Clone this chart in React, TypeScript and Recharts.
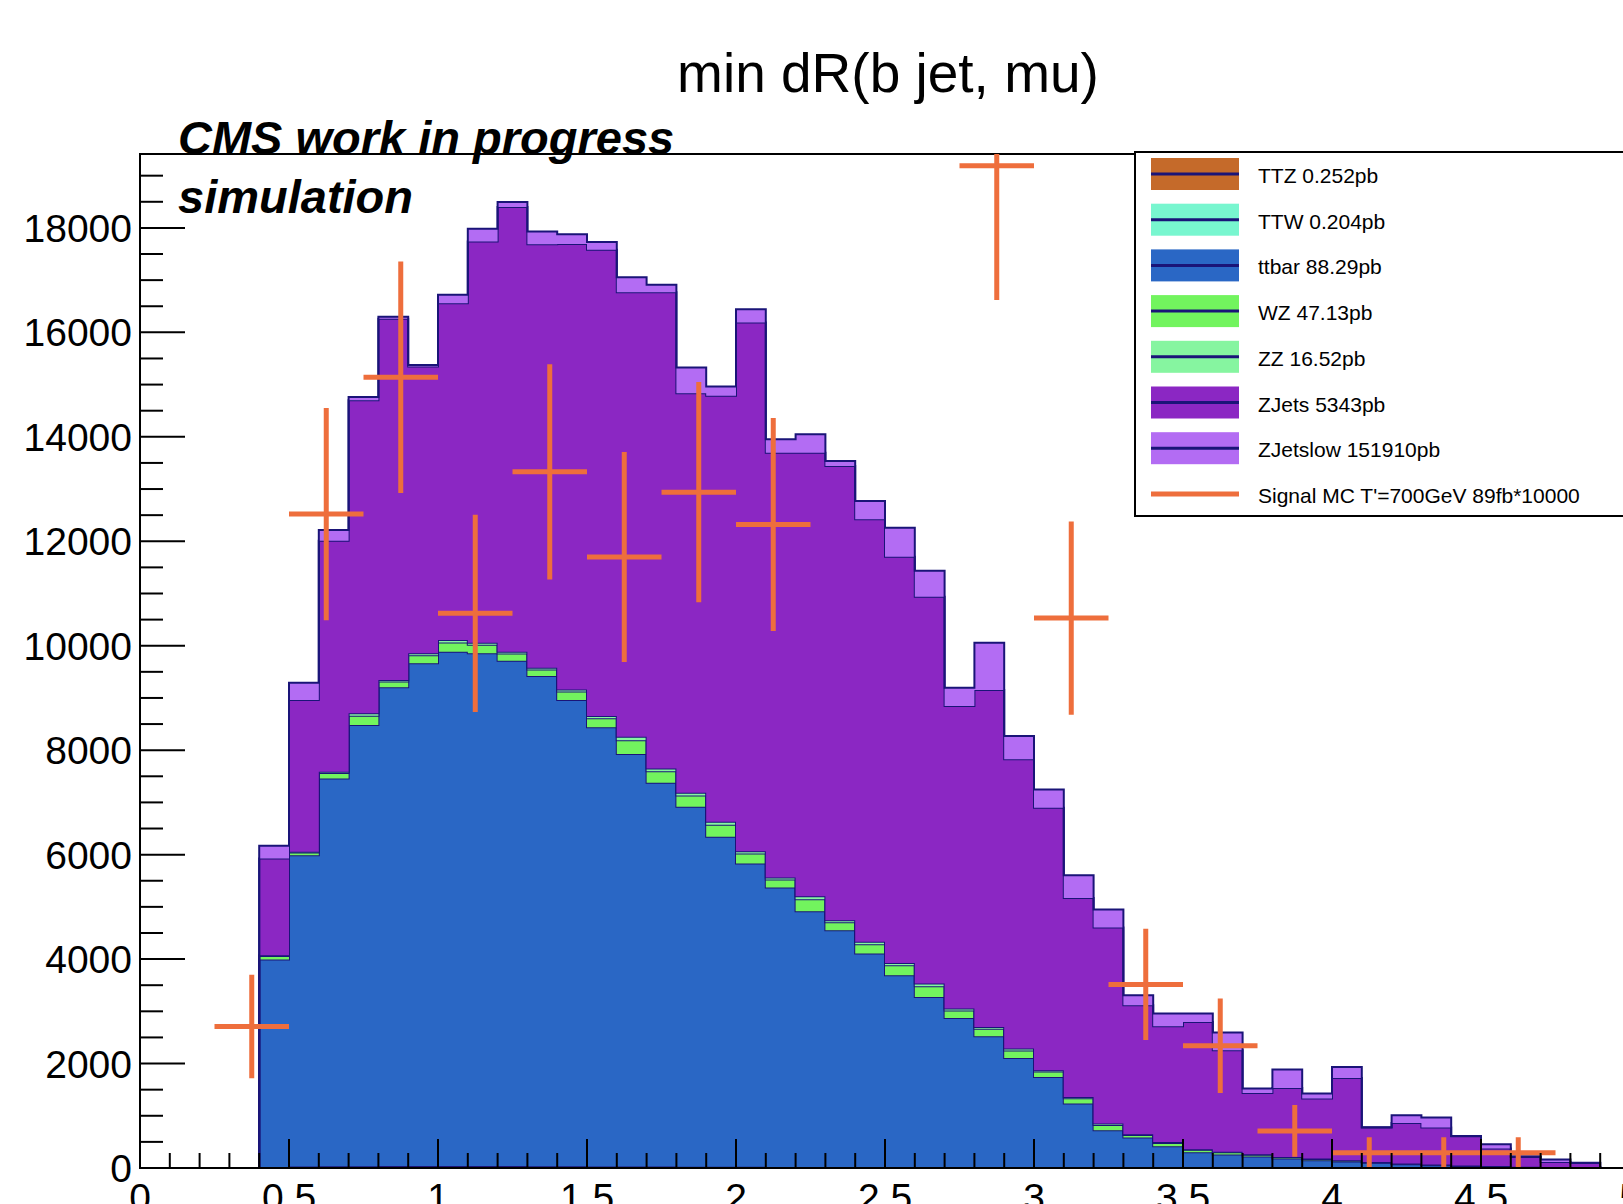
import React from 'react';
import { ComposedChart, Area, Line, ReferenceArea, XAxis, YAxis } from 'recharts';

// Histogram binning: low edge of every filled bin, bins are 0.1 wide
const BIN_LOW = [0.4, 0.5, 0.6, 0.7, 0.8, 0.9, 1.0, 1.1, 1.2, 1.3, 1.4, 1.5, 1.6, 1.7, 1.8, 1.9, 2.0, 2.1, 2.2, 2.3, 2.4, 2.5, 2.6, 2.7, 2.8, 2.9, 3.0, 3.1, 3.2, 3.3, 3.4, 3.5, 3.6, 3.7, 3.8, 3.9, 4.0, 4.1, 4.2, 4.3, 4.4, 4.5, 4.6, 4.7, 4.8];
const HIST_END = 4.9;

// Background contributions per bin (events), bottom of the stack first
const TTZ = [12, 16, 18, 20, 21, 22, 22, 22, 21, 20, 19, 18, 17, 16, 15, 14, 13, 12, 11, 10, 9, 8, 7, 6, 6, 5, 4, 3, 3, 2, 2, 2, 2, 1, 1, 1, 1, 1, 1, 1, 0, 0, 0, 0, 0];
const TTW = [9, 12, 14, 15, 16, 16, 16, 16, 15, 15, 14, 13, 12, 12, 11, 10, 9, 9, 8, 7, 7, 6, 5, 5, 4, 4, 3, 3, 2, 2, 2, 1, 1, 1, 1, 1, 1, 0, 0, 0, 0, 0, 0, 0, 0];
const TTBAR = [3969, 5962, 7428, 8446, 9166, 9625, 9847, 9816, 9677, 9384, 8927, 8406, 7896, 7348, 6890, 6317, 5809, 5351, 4899, 4536, 4091, 3678, 3264, 2863, 2513, 2098, 1736, 1228, 717, 578, 411, 297, 257, 218, 178, 148, 123, 99, 69, 54, 40, 30, 20, 15, 10];
const WZ = [68, 51, 101, 179, 112, 153, 179, 163, 138, 128, 163, 173, 266, 220, 214, 230, 189, 153, 230, 154, 178, 188, 205, 144, 142, 144, 103, 101, 102, 50, 66, 48, 40, 34, 25, 24, 20, 12, 12, 8, 8, 6, 5, 4, 3];
const ZZ = [17, 13, 25, 45, 28, 38, 45, 41, 34, 32, 41, 43, 66, 55, 54, 57, 47, 38, 57, 38, 45, 47, 51, 36, 36, 36, 26, 25, 26, 13, 17, 12, 10, 8, 6, 6, 5, 3, 3, 2, 2, 2, 1, 1, 1];
const ZJETS = [1852, 2906, 4425, 5995, 6917, 5491, 6449, 7681, 8513, 8110, 8526, 8927, 8513, 9119, 7651, 8156, 10121, 8134, 8492, 8697, 8091, 7778, 7407, 5791, 6450, 5537, 5025, 3812, 3755, 2472, 2216, 2437, 1945, 1175, 1322, 1149, 1574, 659, 777, 709, 557, 333, 185, 95, 82];
const ZJETSLOW = [242, 331, 205, 60, 40, 32, 160, 243, 96, 242, 190, 148, 287, 140, 491, 178, 256, 257, 353, 96, 351, 556, 498, 350, 907, 446, 352, 435, 345, 191, 243, 160, 339, 84, 352, 96, 211, 6, 148, 191, 5, 83, 14, 46, 4];

// Signal MC, 0.25 wide bins
const SIG_X = [0.375, 0.625, 0.875, 1.125, 1.375, 1.625, 1.875, 2.125, 2.875, 3.125, 3.375, 3.625, 3.875, 4.125, 4.375, 4.625];
const SIG_Y = [2710, 12520, 15140, 10620, 13330, 11700, 12940, 12320, 19190, 10530, 3515, 2340, 710, 294, 294, 294];
const SIG_ERR = [990, 2030, 2215, 1890, 2060, 2010, 2110, 2040, 2570, 1850, 1065, 905, 495, 294, 294, 294];
const SIG_HALF_WIDTH = 0.125;

const X_TICKS = [0, 0.1, 0.2, 0.3, 0.4, 0.5, 0.6, 0.7, 0.8, 0.9, 1, 1.1, 1.2, 1.3, 1.4, 1.5, 1.6, 1.7, 1.8, 1.9, 2, 2.1, 2.2, 2.3, 2.4, 2.5, 2.6, 2.7, 2.8, 2.9, 3, 3.1, 3.2, 3.3, 3.4, 3.5, 3.6, 3.7, 3.8, 3.9, 4, 4.1, 4.2, 4.3, 4.4, 4.5, 4.6, 4.7, 4.8, 4.9, 5];
const Y_TICKS = [0, 500, 1000, 1500, 2000, 2500, 3000, 3500, 4000, 4500, 5000, 5500, 6000, 6500, 7000, 7500, 8000, 8500, 9000, 9500, 10000, 10500, 11000, 11500, 12000, 12500, 13000, 13500, 14000, 14500, 15000, 15500, 16000, 16500, 17000, 17500, 18000, 18500, 19000];
const X_MAX = 5;
const Y_MAX = 19415;

const LINE = '#1a1478';
const FONT = '"Liberation Sans", Arial, Helvetica, sans-serif';

const STACK = [
  { key: 'ttz', label: 'TTZ 0.252pb', color: '#c56a2a', values: TTZ },
  { key: 'ttw', label: 'TTW 0.204pb', color: '#78f6cf', values: TTW },
  { key: 'ttbar', label: 'ttbar 88.29pb', color: '#2a67c5', values: TTBAR },
  { key: 'wz', label: 'WZ 47.13pb', color: '#72f45e', values: WZ },
  { key: 'zz', label: 'ZZ 16.52pb', color: '#86f5a0', values: ZZ },
  { key: 'zjets', label: 'ZJets 5343pb', color: '#8b27c3', values: ZJETS },
  { key: 'zjetslow', label: 'ZJetslow 151910pb', color: '#b36cf3', values: ZJETSLOW },
];
const SIGNAL_LABEL = "Signal MC T'=700GeV 89fb*10000";
const SIGNAL_COLOR = '#ee6e3c';

const zeros = Object.fromEntries(STACK.map((s) => [s.key, 0]));
const histRows = [
  { x: BIN_LOW[0], ...zeros },
  ...BIN_LOW.map((x, i) => ({ x, ...Object.fromEntries(STACK.map((s) => [s.key, s.values[i]])) })),
  { x: HIST_END, ...zeros },
];

// signal drawn ROOT-style as crosses: vertical error bar + horizontal bin width, null breaks the line
const sigVertical = SIG_X.flatMap((x, i) => [
  { x, v: SIG_Y[i] - SIG_ERR[i] },
  { x, v: SIG_Y[i] + SIG_ERR[i] },
  { x, v: null },
]);
const sigHorizontal = SIG_X.flatMap((x, i) => [
  { x: x - SIG_HALF_WIDTH, h: SIG_Y[i] },
  { x: x + SIG_HALF_WIDTH, h: SIG_Y[i] },
  { x: x + SIG_HALF_WIDTH, h: null },
]);

const isHalf = (v: number) => Math.abs(v * 2 - Math.round(v * 2)) < 1e-6;

const XTick = ({ x, y, payload }: any) => {
  const v = payload.value;
  const major = isHalf(v);
  return (
    <g>
      <line x1={x} y1={y} x2={x} y2={y - (major ? 29 : 15)} stroke="#000" strokeWidth={2} />
      {major && (
        <text x={x} y={y + 43} textAnchor="middle" fontSize={39} fill="#000" fontFamily={FONT}>
          {String(v)}
        </text>
      )}
    </g>
  );
};

const YTick = ({ x, y, payload }: any) => {
  const v = payload.value;
  const major = v % 2000 === 0;
  return (
    <g>
      <line x1={x} y1={y} x2={x + (major ? 45 : 23)} y2={y} stroke="#000" strokeWidth={2} />
      {major && (
        <text x={x - 8} y={y + 14} textAnchor="end" fontSize={39} fill="#000" fontFamily={FONT}>
          {String(v)}
        </text>
      )}
    </g>
  );
};

const ROW0 = 174;
const ROW_STEP = 45.7;

const Overlay = () => (
  <svg width={1623} height={1204} style={{ position: 'absolute', left: 0, top: 0, pointerEvents: 'none' }} fontFamily={FONT}>
    <text x={888} y={92} textAnchor="middle" fontSize={55} fill="#000">min dR(b jet, mu)</text>
    <text x={178} y={154} fontSize={47} fontWeight="bold" fontStyle="italic" fill="#000">CMS work in progress</text>
    <text x={178} y={213} fontSize={47} fontWeight="bold" fontStyle="italic" fill="#000">simulation</text>

    <rect x={1135} y={152} width={540} height={364} fill="#fff" stroke="#000" strokeWidth={2} />
    {STACK.map((s, i) => {
      const cy = ROW0 + i * ROW_STEP;
      return (
        <g key={s.key}>
          <rect x={1151} y={cy - 16} width={88} height={32} fill={s.color} />
          <line x1={1151} x2={1239} y1={cy} y2={cy} stroke={LINE} strokeWidth={3} />
          <text x={1258} y={cy + 9} fontSize={21} fill="#000">{s.label}</text>
        </g>
      );
    })}
    <line x1={1151} x2={1239} y1={ROW0 + 7 * ROW_STEP} y2={ROW0 + 7 * ROW_STEP} stroke={SIGNAL_COLOR} strokeWidth={5} />
    <text x={1258} y={ROW0 + 7 * ROW_STEP + 9} fontSize={21} fill="#000">{SIGNAL_LABEL}</text>
  </svg>
);

export default function App() {
  return (
    <div style={{ position: 'absolute', left: 0, top: 0, width: 1623, height: 1204, overflow: 'hidden', background: '#fff', fontFamily: FONT }}>
      <ComposedChart width={1660} height={1204} data={histRows} margin={{ top: 154, right: 30, bottom: 0, left: 0 }}>
        {STACK.map((s) => (
          <Area
            key={s.key}
            type="stepAfter"
            dataKey={s.key}
            stackId="mc"
            stroke={LINE}
            strokeWidth={2}
            fill={s.color}
            fillOpacity={1}
            dot={false}
            activeDot={false}
            isAnimationActive={false}
          />
        ))}
        <Line data={sigVertical} dataKey="v" type="linear" stroke={SIGNAL_COLOR} strokeWidth={5} dot={false} activeDot={false} connectNulls={false} isAnimationActive={false} />
        <Line data={sigHorizontal} dataKey="h" type="linear" stroke={SIGNAL_COLOR} strokeWidth={5} dot={false} activeDot={false} connectNulls={false} isAnimationActive={false} />
        <ReferenceArea x1={0} x2={X_MAX} y1={0} y2={Y_MAX} fill="none" fillOpacity={0} stroke="#000" strokeWidth={2} ifOverflow="visible" />
        <XAxis
          dataKey="x"
          type="number"
          domain={[0, X_MAX]}
          ticks={X_TICKS}
          interval={0}
          height={36}
          tickSize={0}
          tickMargin={0}
          tickLine={false}
          axisLine={{ stroke: '#000', strokeWidth: 2 }}
          tick={<XTick />}
          allowDataOverflow
        />
        <YAxis
          type="number"
          domain={[0, Y_MAX]}
          ticks={Y_TICKS}
          interval={0}
          width={140}
          tickSize={0}
          tickMargin={0}
          tickLine={false}
          axisLine={{ stroke: '#000', strokeWidth: 2 }}
          tick={<YTick />}
          allowDataOverflow
        />
      </ComposedChart>
      <Overlay />
    </div>
  );
}
